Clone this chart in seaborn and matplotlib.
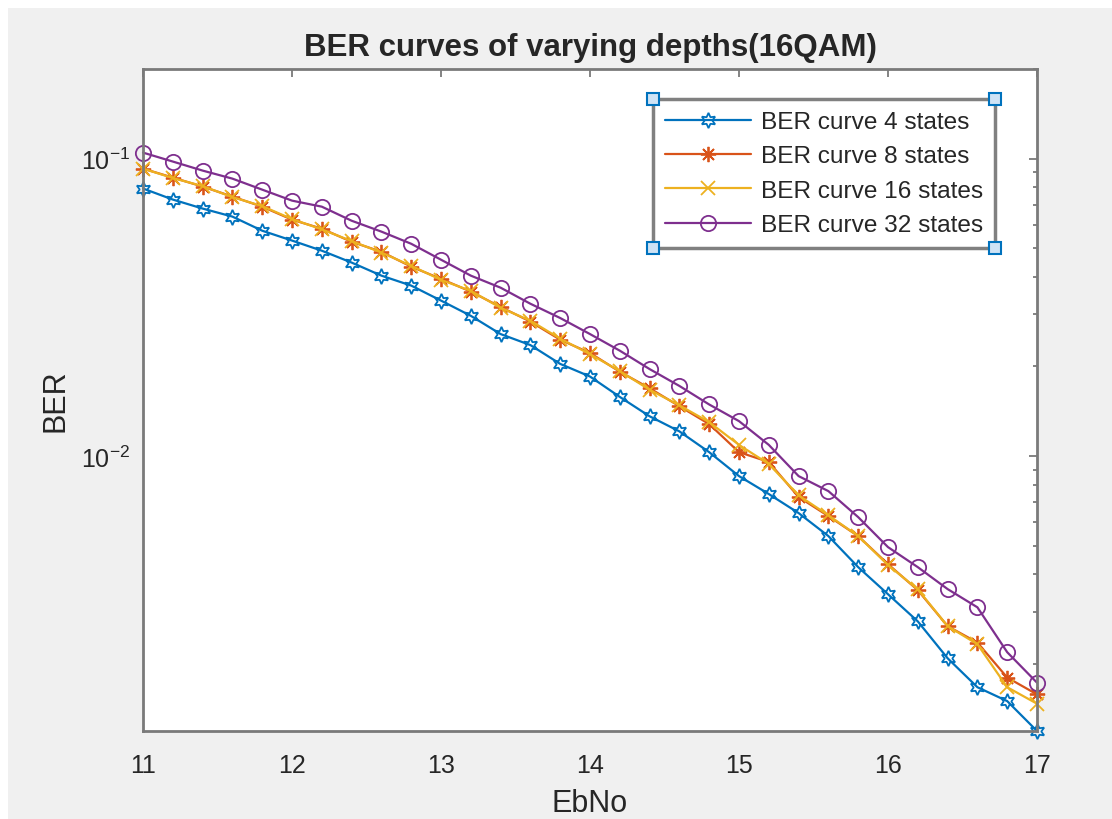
import numpy as np
import pandas as pd
import matplotlib
matplotlib.use("Agg")
import matplotlib.pyplot as plt
import seaborn as sns
from matplotlib.patches import Rectangle
from matplotlib.lines import Line2D
from matplotlib.ticker import LogLocator

# DATA
ebno = np.linspace(11, 17, 31)

ber_4 = [0.0793, 0.0728, 0.0679, 0.0638, 0.0572, 0.0530, 0.0490, 0.0447, 0.0404, 0.0374,
         0.0333, 0.0296, 0.0257, 0.0236, 0.0204, 0.0185, 0.0158, 0.0136, 0.0121, 0.0103,
         0.00856, 0.00745, 0.00643, 0.00538, 0.00423, 0.00343, 0.00278, 0.00209, 0.00167,
         0.00150, 0.00119]
ber_8 = [0.0925, 0.0863, 0.0805, 0.0745, 0.0689, 0.0623, 0.0581, 0.0525, 0.0486, 0.0433,
         0.0394, 0.0357, 0.0317, 0.0283, 0.0246, 0.0222, 0.0192, 0.0169, 0.0147, 0.0128,
         0.0103, 0.00955, 0.00728, 0.00628, 0.00538, 0.00433, 0.00354, 0.00268, 0.00236,
         0.00180, 0.00158]
ber_16 = [0.0925, 0.0860, 0.0808, 0.0742, 0.0692, 0.0626, 0.0578, 0.0528, 0.0483, 0.0436,
          0.0391, 0.0359, 0.0315, 0.0285, 0.0248, 0.0220, 0.0193, 0.0167, 0.0148, 0.0130,
          0.0109, 0.00940, 0.00737, 0.00632, 0.00538, 0.00430, 0.00356, 0.00268, 0.00233,
          0.00167, 0.00147]
ber_32 = [0.1047, 0.0977, 0.0911, 0.0856, 0.0786, 0.0722, 0.0689, 0.0618, 0.0568, 0.0517,
          0.0457, 0.0404, 0.0368, 0.0325, 0.0291, 0.0257, 0.0226, 0.0196, 0.0172, 0.0149,
          0.0131, 0.0109, 0.00856, 0.00762, 0.00623, 0.00494, 0.00423, 0.00357, 0.00310,
          0.00219, 0.00173]

labels = ["BER curve 4 states", "BER curve 8 states", "BER curve 16 states", "BER curve 32 states"]
colors = ["#0072BD", "#D95319", "#EDB120", "#7E2F8E"]
markers = [(6, 1, 0), (8, 2, 0), "x", "o"]
msizes = [11, 11, 10, 11]

df = pd.DataFrame({"EbNo": np.tile(ebno, 4),
                   "BER": ber_4 + ber_8 + ber_16 + ber_32,
                   "curve": np.repeat(labels, len(ebno))})

# STYLE
sns.set_style("white")
plt.rcParams["font.family"] = ["Liberation Sans", "DejaVu Sans"]
axcol = "#7a7a7a"
txtcol = "#262626"

fig = plt.figure(figsize=(11.12, 8.2), dpi=100)
fig.patch.set_facecolor("white")
fig.add_artist(Rectangle((8 / 1112, 0), 1, (820 - 9) / 820, transform=fig.transFigure,
                         facecolor="#f0f0f0", edgecolor="none", zorder=-10))

ax = fig.add_axes([143 / 1112, (820 - 732) / 820, (1037 - 143) / 1112, (732 - 70) / 820])
ax.set_facecolor("white")

for lab, col, mk, ms in zip(labels, colors, markers, msizes):
    sub = df[df["curve"] == lab]
    sns.lineplot(data=sub, x="EbNo", y="BER", ax=ax, color=col, marker=mk, markersize=ms,
                 markerfacecolor="none", markeredgecolor=col, markeredgewidth=1.3,
                 linewidth=1.6, label=lab, clip_on=False)

ax.set_yscale("log")
ax.set_xlim(11, 17)
ax.set_ylim(1.19e-3, 0.2)
ax.set_xticks([11, 12, 13, 14, 15, 16, 17])
ax.yaxis.set_minor_locator(LogLocator(base=10, subs=np.arange(2, 10)))

for sp in ax.spines.values():
    sp.set_color(axcol)
    sp.set_linewidth(2)
ax.tick_params(which="both", direction="in", top=True, right=True, color=axcol,
               labelcolor=txtcol, labelsize=18)
ax.tick_params(which="major", length=6, width=1.3)
ax.tick_params(axis="x", which="major", pad=16)
ax.tick_params(axis="y", which="major", pad=9)
ax.tick_params(which="minor", length=3, width=1.3)
ax.tick_params(axis="x", which="minor", bottom=False, top=False)

ax.set_title("BER curves of varying depths(16QAM)", fontsize=22.5, fontweight="bold",
             color=txtcol, pad=10)
ax.set_xlabel("EbNo", fontsize=22, color=txtcol, labelpad=8)
ax.set_ylabel("BER", fontsize=22, color=txtcol, labelpad=8)

leg = ax.legend(loc="upper right", bbox_to_anchor=(0.953, 0.955), borderaxespad=0,
                fontsize=17.6, handlelength=3.5, labelspacing=0.5, handletextpad=0.4,
                borderpad=0.5, fancybox=False, framealpha=1, edgecolor="#808080")
leg.get_frame().set_linewidth(2.5)
for t in leg.get_texts():
    t.set_color(txtcol)

# selection handles at legend corners
fig.canvas.draw()
bb = leg.get_window_extent().transformed(fig.transFigure.inverted())
cx = [bb.x0, bb.x1, bb.x0, bb.x1]
cy = [bb.y0, bb.y0, bb.y1, bb.y1]
fig.add_artist(Line2D(cx, cy, transform=fig.transFigure, linestyle="none", marker="s",
                      markersize=8, markerfacecolor="#cfe3f5", markeredgecolor="#0072BD",
                      markeredgewidth=1.5, zorder=20))

fig.savefig("out.png", dpi=100)
